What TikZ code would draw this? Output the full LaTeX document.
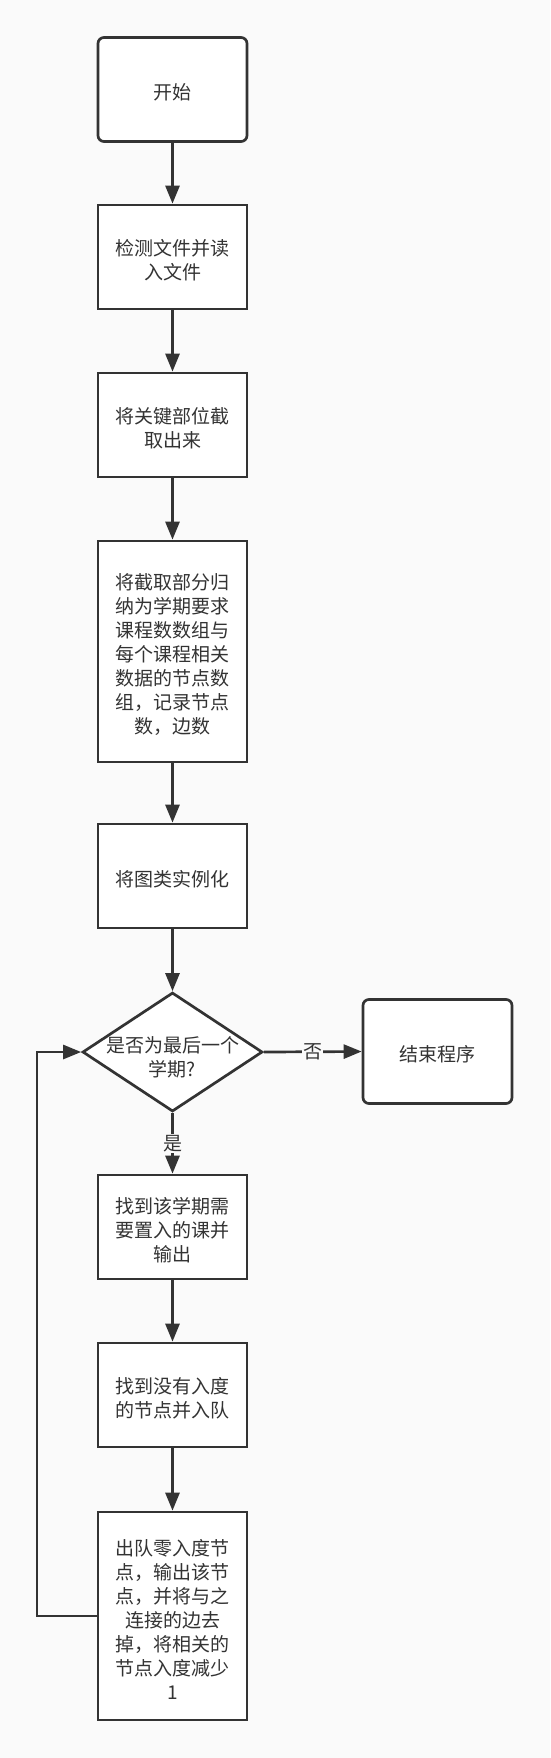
\documentclass[tikz,border=0pt]{standalone}
\usepackage{fontspec}
\newfontfamily\cjk{Noto Sans CJK SC}
\usetikzlibrary{shapes.geometric,arrows.meta}
\definecolor{ink}{HTML}{333333}
\definecolor{bg}{HTML}{FAFAFA}
\begin{document}
\begin{tikzpicture}[x=1pt,y=-1pt,
  txt/.style={text=ink, font=\cjk\fontsize{19}{24}\selectfont, align=center},
  box/.style={draw=ink, fill=white, line width=2.7pt, minimum width=149pt, minimum height=104pt, inner sep=0pt},
  rbox/.style={box, rounded corners=6pt},
  t/.style={label={[txt, yshift=-3pt]center:#1}},
  dec/.style={diamond, draw=ink, fill=white, line width=2.7pt, minimum width=180pt, minimum height=119pt, inner sep=0pt},
  arr/.style={draw=ink, line width=2.7pt, -{Triangle[width=14pt,length=18pt]}},
  lab/.style={txt, fill=bg, inner sep=1pt}
]
\fill[bg] (0,0) rectangle (550,1758);
\useasboundingbox (0,0) rectangle (550,1758);

\node[rbox, t={开始}] (start) at (172.5,89.5) {};
\node[box, t={检测文件并读\\入文件}] (b2) at (172.5,257) {};
\node[box, t={将关键部位截\\取出来}] (b3) at (172.5,425) {};
\node[box, minimum height=221pt, t={将截取部分归\\纳为学期要求\\课程数数组与\\每个课程相关\\数据的节点数\\组，记录节点\\数，边数}] (b4) at (172.5,651.5) {};
\node[box, t={将图类实例化}] (b5) at (172.5,876) {};
\node[dec, label={[txt, yshift=-5pt]center:是否为最后一个\\学期?}] (d) at (172.5,1052) {};
\node[rbox, t={结束程序}] (end) at (437.5,1051.5) {};
\node[box, t={找到该学期需\\要置入的课并\\输出}] (b6) at (172.5,1227) {};
\node[box, t={找到没有入度\\的节点并入队}] (b7) at (172.5,1395) {};
\node[box, minimum height=208pt, t={出队零入度节\\点，输出该节\\点，并将与之\\连接的边去\\掉，将相关的\\节点入度减少\\1}] (b8) at (172.5,1616) {};

\draw[arr] (start) -- (b2);
\draw[arr] (b2) -- (b3);
\draw[arr] (b3) -- (b4);
\draw[arr] (b4) -- (b5);
\draw[arr] (b5) -- (d);
\draw[arr] (d.east) -- node[lab] {否} (end.west);
\draw[arr] (d.south) -- node[lab] {是} (b6.north);
\draw[arr] (b6) -- (b7);
\draw[arr] (b7) -- (b8);
\coordinate (lp) at (37,1616);
\draw[arr] (b8.west) -- (lp) |- (d.west);
\end{tikzpicture}
\end{document}
